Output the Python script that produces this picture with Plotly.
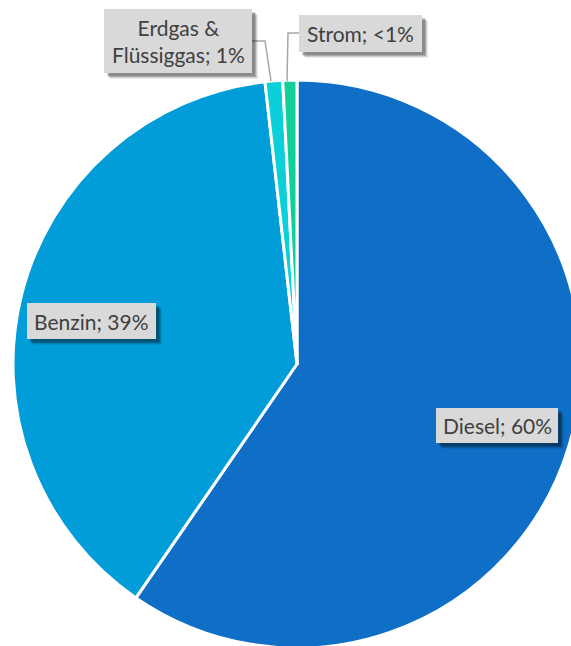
import plotly.graph_objects as go

# Fuel-type shares of the vehicle stock
categories = ["Diesel", "Benzin", "Erdgas & Flüssiggas", "Strom"]
shares = [59.6, 38.6, 1.0, 0.8]
label_texts = ["Diesel; 60%", "Benzin; 39%", "Erdgas &<br>Flüssiggas; 1%", "Strom; <1%"]
colors = ["#0F6FC6", "#009DD9", "#0BD0D9", "#10CF9B"]

W, H = 600, 660  # canvas slightly larger than the viewport so the pie can bleed off the edges


def px(x):
    return x / W


def py(y):
    return 1 - y / H


cx, cy, r = 297, 364, 284

fig = go.Figure(
    go.Pie(
        labels=categories,
        values=shares,
        marker=dict(colors=colors, line=dict(color="white", width=3)),
        sort=False,
        direction="clockwise",
        rotation=0,
        textinfo="none",
        hoverinfo="skip",
        showlegend=False,
        domain=dict(x=[px(cx - r), px(cx + r)], y=[py(cy + r), py(cy - r)]),
    )
)

# label boxes: (left, top, right, bottom) in px
boxes = [
    (436, 408, 558, 443),
    (27, 303, 156, 339),
    (104, 9, 252, 73),
    (299, 15, 422, 52),
]

shapes = []
# leader lines for the two thin slices
shapes.append(dict(type="path", xref="paper", yref="paper",
                   path=f"M {px(252)} {py(41)} L {px(265)} {py(41)} L {px(271)} {py(81)}",
                   line=dict(color="#A6A6A6", width=1.5), layer="above"))
shapes.append(dict(type="path", xref="paper", yref="paper",
                   path=f"M {px(299)} {py(33)} L {px(288)} {py(33)} L {px(287)} {py(81)}",
                   line=dict(color="#A6A6A6", width=1.5), layer="above"))

for (x0, y0, x1, y1) in boxes:
    # soft drop shadow
    for off, alpha in [(6, 0.08), (5, 0.12), (4, 0.16), (3, 0.2)]:
        shapes.append(dict(type="rect", xref="paper", yref="paper",
                           x0=px(x0 + off), x1=px(x1 + off), y0=py(y1 + off), y1=py(y0 + off),
                           fillcolor=f"rgba(0,0,0,{alpha})", line=dict(width=0), layer="above"))
    shapes.append(dict(type="rect", xref="paper", yref="paper",
                       x0=px(x0), x1=px(x1), y0=py(y1), y1=py(y0),
                       fillcolor="#D9D9D9", line=dict(width=0), layer="above"))

annotations = []
for (x0, y0, x1, y1), txt in zip(boxes, label_texts):
    annotations.append(dict(
        x=px((x0 + x1) / 2), y=py((y0 + y1) / 2), xref="paper", yref="paper",
        text=txt, showarrow=False, xanchor="center", yanchor="middle",
        font=dict(family="Lato", size=21, color="#404040"), align="center",
    ))

fig.update_layout(
    width=W, height=H,
    margin=dict(l=0, r=0, t=0, b=0),
    paper_bgcolor="white", plot_bgcolor="white",
    shapes=shapes, annotations=annotations,
)

fig.write_html("out.html", config=dict(displayModeBar=False),
               post_script="document.body.style.overflow='hidden';document.body.style.margin='0';")
